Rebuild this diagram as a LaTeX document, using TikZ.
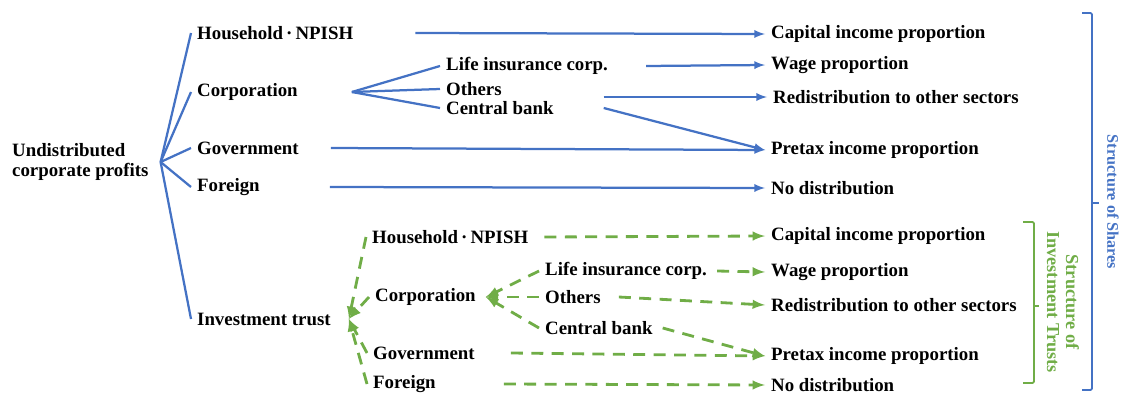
\documentclass[tikz,border=0pt]{standalone}
\usepackage{fontspec}
\setmainfont{Liberation Serif}
\usepackage{xcolor}
\definecolor{shareblue}{RGB}{68,114,196}
\definecolor{trustgreen}{RGB}{112,173,71}
\usepackage{tikz}
\usetikzlibrary{arrows,positioning,calc}

\begin{document}
\begin{tikzpicture}[
            x=0.025cm, y=-0.025cm,
            thick,
            label node/.style={anchor=west,inner xsep=4pt,inner ysep=1pt,font=\fontsize{13.4}{14.5}\selectfont\bfseries},
            blue line/.style={draw=shareblue,line width=1.6pt},
            blue arrow/.style={blue line,-latex},
            green line/.style={draw=trustgreen,line width=2pt,dash pattern=on 8.5pt off 6pt},
            green arrow/.style={green line,-latex},
            bracket/.style={line width=1.3pt,rounded corners=1pt}
        ]
            \useasboundingbox (0,0) rectangle (1123,394);

            % shares: sectors
            \node[label node,align=left] (root) at (6,162) {Undistributed\\corporate profits};
            \node[label node] (bhh) at (191,33) {Household\,·\,NPISH};
            \node[label node] (bcorp) at (191,92) {Corporation};
            \node[label node] (bgov) at (191,148) {Government};
            \node[label node] (bfore) at (191,187) {Foreign};
            \node[label node] (bit) at (191,319) {Investment trust};
            \node[label node] (blife) at (440,66) {Life insurance corp.};
            \node[label node] (bothers) at (440,89) {Others};
            \node[label node] (bcb) at (440,108) {Central bank};

            % shares: where the income goes
            \node[label node] (bcap) at (765,34) {Capital income proportion};
            \node[label node] (bwage) at (765,65) {Wage proportion};
            \node[label node] (bred) at (767,97) {Redistribution to other sectors};
            \node[label node] (bpre) at (765,150) {Pretax income proportion};
            \node[label node] (bnone) at (765,188) {No distribution};

            \coordinate (rootfan) at ([xshift=0.15cm]root.east);
            \coordinate (bcfan) at ([xshift=1.2cm]bcorp.east);

            \foreach \n in {bhh,bcorp,bgov,bfore,bit}
                \draw[blue line] (rootfan) -- (\n.west);
            \foreach \n in {blife,bothers,bcb}
                \draw[blue line] (bcfan) -- (\n.west);

            \draw[blue arrow] ([xshift=1.4cm]bhh.east) -- (bcap.west);
            \draw[blue arrow] ([xshift=0.8cm]blife.east) -- (bwage.west);
            \draw[blue arrow] ([xshift=1.1cm]bred.west -| bcb.east) -- (bred.west);
            \draw[blue arrow] ([xshift=1.1cm]bcb.east) -- (bpre.west);
            \draw[blue arrow] ([xshift=0.65cm]bgov.east) -- (bpre.west);
            \draw[blue arrow] ([xshift=1.6cm]bfore.east) -- (bnone.west);

            % investment trusts
            \node[label node] (ghh) at (366,237) {Household\,·\,NPISH};
            \node[label node] (gcorp) at (369,297) {Corporation};
            \node[label node] (ggov) at (367,353) {Government};
            \node[label node] (gfore) at (367,384) {Foreign};
            \node[label node] (glife) at (539,271) {Life insurance corp.};
            \node[label node] (gothers) at (539,297) {Others};
            \node[label node] (gcb) at (539,328) {Central bank};

            \node[label node] (gcap) at (765,236) {Capital income proportion};
            \node[label node] (gwage) at (765,272) {Wage proportion};
            \node[label node] (gred) at (765,305) {Redistribution to other sectors};
            \node[label node] (gpre) at (765,356) {Pretax income proportion};
            \node[label node] (gnone) at (765,385) {No distribution};

            \coordinate (itfan) at ([xshift=0.3cm]bit.east);
            \coordinate (gcfan) at ([xshift=0.1cm]gcorp.east);

            \foreach \n in {ghh,gcorp,ggov,gfore}
                \draw[green arrow] (\n.west) -- (itfan);
            \foreach \n in {glife,gothers,gcb}
                \draw[green arrow] (\n.west) -- (gcfan);

            \draw[green arrow] ([xshift=0.25cm]ghh.east) -- (gcap.west);
            \draw[green arrow] ([xshift=0.1cm]glife.east) -- (gwage.west);
            \draw[green arrow] ([xshift=0.3cm]gothers.east) -- (gred.west);
            \draw[green arrow] ([xshift=0.1cm]gcb.east) -- (gpre.west);
            \draw[green arrow] ([xshift=0.75cm]ggov.east) -- (gpre.west);
            \draw[green arrow] ([xshift=1.55cm]gfore.east) -- (gnone.west);

            % brackets on the right
            \draw[bracket,shareblue] (1082,13) -- (1092,13) -- (1092,390) -- (1082,390);
            \draw[bracket,shareblue] (1092,203) -- (1099,203);
            \draw[bracket,trustgreen] (1023,222) -- (1034,222) -- (1034,383) -- (1023,383);
            \draw[bracket,trustgreen] (1034,306) -- (1039,306);

            \node[rotate=-90,text=shareblue,font=\fontsize{11.5}{13}\selectfont\bfseries] (shares) at (1113,202) {Structure of Shares};
            \node[rotate=-90,text=trustgreen,align=center,font=\fontsize{13}{13.5}\selectfont\bfseries] (trusts) at (1063,302) {Structure of\\Investment Trusts};
        \end{tikzpicture}
\end{document}
